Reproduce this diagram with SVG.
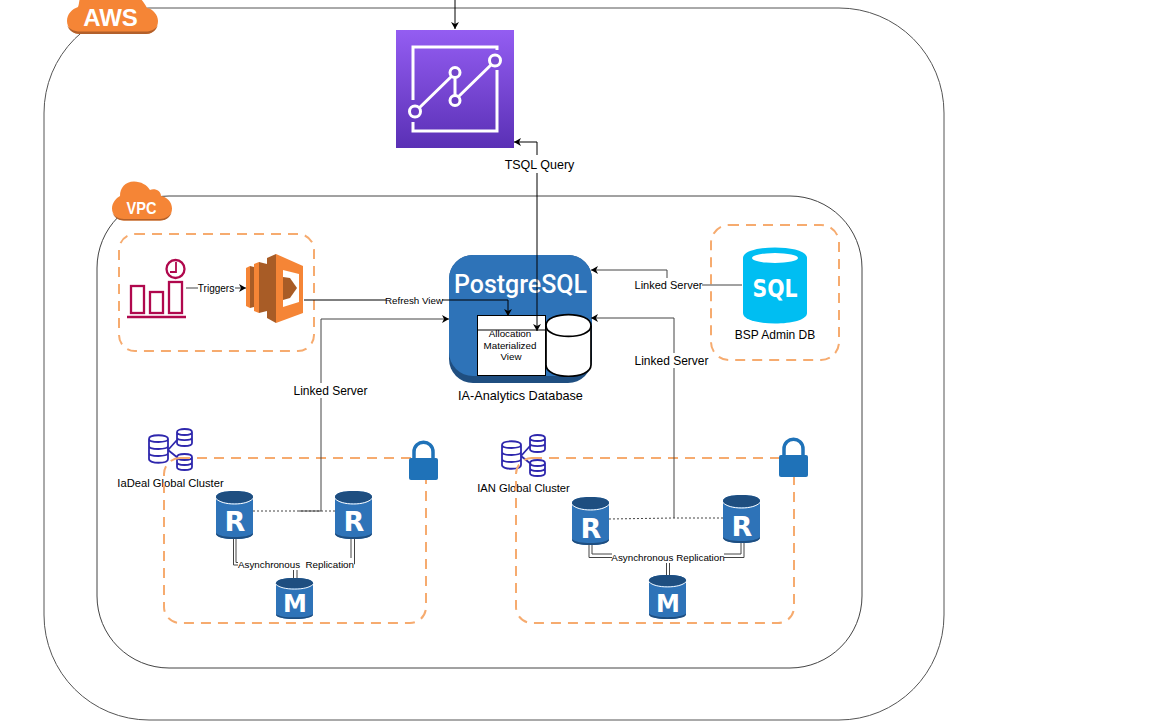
<svg xmlns="http://www.w3.org/2000/svg" width="1152" height="726" viewBox="0 0 1152 726">
<style>
text{font-family:"Liberation Sans",Arial,sans-serif;fill:#000}
.c{stroke:#000;stroke-width:1;fill:none}
.g{stroke:#444;stroke-width:1;fill:none}
.dash{fill:none;stroke:#f6ab6f;stroke-width:2;stroke-dasharray:10 7}
.lbl{font-size:12px;text-anchor:middle}
.sm{font-size:9.800px;text-anchor:middle}
.cloud{fill:#f58536}
.cl{fill:#fff;font-weight:bold;text-anchor:middle}
.dbb{fill:#2e73b8}
.cyl{fill:none;stroke:#2e27ad;stroke-width:1.800}
.dbw{fill:none;stroke:#fff;stroke-width:1}
.let{font-family:"DejaVu Sans",sans-serif;fill:#fff;font-weight:bold;font-size:27px;text-anchor:middle}
.lo{fill:#f58536}
.ld{fill:#a85c26}
</style>
<defs>
<marker id="a" markerWidth="8" markerHeight="8" refX="7" refY="4" orient="auto-start-reverse" markerUnits="userSpaceOnUse"><path d="M0 0L7 4L0 8L2 4Z" fill="#000"/></marker>
<linearGradient id="pg" x1="0" y1="0" x2="0" y2="1"><stop offset="0" stop-color="#945df2"/><stop offset="1" stop-color="#5a30b5"/></linearGradient>
<symbol id="db" viewBox="0 0 37 48" overflow="visible" preserveAspectRatio="none">
<path class="dbb" d="M0 6C0 2 8 0 18.500 0S37 2 37 6V42C37 46 29 48 18.500 48S0 46 0 42Z"/>
<path d="M0 6C0 2 8 0 18.500 0S37 2 37 6C37 10 29 12 18.500 12S0 10 0 6Z" fill="#1e4e80"/>
<path class="dbw" d="M0 7.500C3 11 10 13 18.500 13S34 11 37 7.500"/>
<path d="M0 42C3 45 10 46 18.500 46S34 45 37 42V43C37 46 29 48 18.500 48S0 46 0 43Z" fill="#1e4e80"/>
</symbol>
<symbol id="cyls" viewBox="0 0 50 45" overflow="visible">
<g class="cyl">
<path d="M0 10C0 5 19 5 19 10V30C19 35 0 35 0 30ZM0 10C0 14 19 14 19 10M0 17C0 21 19 21 19 17M0 24C0 28 19 28 19 24"/>
<path d="M28 3C28 -1 43 -1 43 3V14C43 18 28 18 28 14ZM28 3C28 7 43 7 43 3M28 8.500C28 12 43 12 43 8.500"/>
<path d="M28 28C28 24 43 24 43 28V38C43 42 28 42 28 38ZM28 28C28 32 43 32 43 28M28 33C28 37 43 37 43 33"/>
<path d="M19 21L28 11M19 21L29 29"/>
</g>
</symbol>
<symbol id="lock" viewBox="0 0 29 40" overflow="visible">
<path d="M5 19V11C5 -2 24 -2 24 11V19" fill="none" stroke="#1f72b8" stroke-width="3.500"/>
<rect x="0" y="17" width="29" height="22" rx="2" fill="#1f72b8"/>
</symbol>
</defs>

<g id="aws-container">
<rect x="44" y="8" width="900" height="712" rx="105" ry="105" fill="none" stroke="#555" stroke-width="1"/>
<path class="cloud" d="M80 34H146C153 34 158 28 158 21C158 15 153 9 147 8C145 4 142 0 140 -2H80C79 1 79 5 78 7C72 9 67 14 67 21C67 28 73 34 80 34Z"/>
<path d="M80 34H146C151 34 156 31 158 25C156 29 151 31.500 146 31.500H80C74 31.500 69 29 67 25C69 31 74 34 80 34Z" fill="#b2602b"/>
<text class="cl" x="110.500" y="26" font-size="24">AWS</text>
</g>
<g id="vpc-container">
<rect x="97" y="196" width="765" height="472" rx="72" ry="72" fill="none" stroke="#444" stroke-width="1"/>
<path class="cloud" d="M124 220.500H160C167 220.500 172 215 172 208.500C172 202 167 197 161 196C161 191 155 188 150 190C147 185 141 181.500 134 181.500C125 181.500 120 188 120 196C116 198 112 203 112 208.500C112 215 118 220.500 124 220.500Z"/>
<path d="M124 220.500H160C166 220.500 170 217 172 212C170 216 165 219 160 219H124C118 219 114 216 112 212C114 217 118 220.500 124 220.500Z" fill="#b2602b"/>
<text class="cl" x="141.500" y="214" font-size="17" textLength="30" lengthAdjust="spacingAndGlyphs">VPC</text>
</g>

<g id="iadeal-cluster-icon"><use href="#cyls" x="149" y="429" width="50" height="45"/><text x="170.500" y="487" font-size="11.200" text-anchor="middle">IaDeal Global Cluster</text></g>
<g id="ian-cluster-icon"><use href="#cyls" x="502" y="435" width="50" height="45"/><text x="523.500" y="492" font-size="11.200" text-anchor="middle">IAN Global Cluster</text></g>

<g id="scheduler-group"><rect class="dash" x="119" y="234" width="195" height="117" rx="16"/></g>
<g id="bsp-group"><rect class="dash" x="711" y="225" width="128" height="135" rx="18"/></g>
<g id="iadeal-group"><rect class="dash" x="164" y="458" width="262" height="165" rx="16"/></g>
<g id="ian-group"><rect class="dash" x="516" y="458" width="278" height="165" rx="16"/></g>

<g id="analytics-node">
<rect x="396" y="30" width="118" height="118" fill="url(#pg)"/>
<g fill="none" stroke="#fff" stroke-width="3">
<path d="M497 50V47H413V100M413 122V131H497V70"/>
<path d="M415 112L455 73V100L495 61"/>
<circle cx="415" cy="111.500" r="5.500" fill="#6a3cc4"/><circle cx="455" cy="72.500" r="5" fill="#7346ca"/><circle cx="455" cy="100.500" r="5" fill="#6a3cc4"/><circle cx="495" cy="60.500" r="5.500" fill="#7a4cd2"/>
</g>
</g>

<g id="scheduler-node" fill="none" stroke="#b0084d" stroke-width="2.300">
<rect x="131" y="286" width="13" height="27"/><rect x="150" y="292" width="13" height="21"/><rect x="169" y="282" width="13" height="31"/>
<path d="M127 317H186"/>
<circle cx="175.500" cy="269" r="9"/><path d="M176 262V272H170" stroke-width="1.800"/>
</g>

<g id="lambda-node">
<path class="lo" d="M246 268L250 266V308L246 306Z"/>
<path class="ld" d="M250 266L254 267V307L250 308Z"/>
<path class="lo" d="M254 264L259 262V313L254 311Z"/>
<path class="ld" d="M259 262L267 264V311L259 313Z"/>
<path class="ld" d="M267 258L276 254V323L267 318Z"/>
<path class="lo" d="M276 254L303 266V313L276 323Z"/>
<path d="M283 270L299 274V302L283 307Z" fill="#fff"/>
<path class="ld" d="M283 277L290 278L297 288L290 298L283 300Z"/>
</g>

<g id="postgres-node">
<rect x="449" y="255" width="143" height="128" rx="24" fill="#1f4e80"/>
<rect x="449" y="255" width="143" height="121" rx="24" fill="#2e73b8"/>
<text x="520.500" y="293" font-size="25" font-weight="500" text-anchor="middle" style="fill:#fff;font-family:Roboto,sans-serif" textLength="133" lengthAdjust="spacing">PostgreSQL</text>
<g id="view-box">
<rect x="477.500" y="315.500" width="68" height="60" fill="#fff" stroke="#000"/>
<path d="M477.500 330H545.500" stroke="#000"/>
<text class="sm" x="510" y="337">Allocation</text>
<text class="sm" x="510" y="348.500">Materialized</text>
<text class="sm" x="511" y="360">View</text>
</g>
<path d="M546 325.500C546 311 591 311 591 325.500V365C591 380 546 380 546 365Z" fill="#fff" stroke="#000" stroke-width="1.700"/>
<path d="M546 325.500C546 340 591 340 591 325.500" fill="none" stroke="#000" stroke-width="1.700"/>
<text x="520.500" y="400" font-size="12.700" text-anchor="middle">IA-Analytics Database</text>
</g>

<g id="bsp-node">
<path d="M743 258C743 244 807 244 807 258V313C807 327 743 327 743 313Z" fill="#00bef2"/>
<ellipse cx="775" cy="258" rx="23" ry="5" fill="#fff"/>
<text x="775" y="297" font-size="24" font-weight="bold" text-anchor="middle" style="fill:#fff;font-family:'DejaVu Sans',sans-serif" textLength="45" lengthAdjust="spacingAndGlyphs">SQL</text>
<text class="lbl" x="775" y="338.500">BSP Admin DB</text>
</g>

<g id="connectors">
<path class="c" d="M455 0V29" marker-end="url(#a)"/>
<path class="c" d="M537 331V142H514" marker-start="url(#a)" marker-end="url(#a)"/>
<path class="g" d="M186 288H246" marker-end="url(#a)"/>
<path class="c" d="M304 300H508V316" marker-end="url(#a)"/>
<path class="g" d="M299 511H321V319H449" marker-end="url(#a)"/>
<path class="g" d="M742 285H667V270H591" marker-end="url(#a)"/>
<path class="g" d="M674 518V318H591" marker-end="url(#a)"/>
<path class="g" stroke-dasharray="2 2" d="M253 511H335"/>
<path class="g" stroke-dasharray="2 2" d="M609 519L674 518L723 518"/>
<path class="g" d="M233.500 539V565H245M236 539V562.500H245"/>
<path class="g" d="M351 539V567H345M354.500 539V564H345"/>
<path class="g" d="M293.500 570V578M297 570V578"/>
<path class="g" d="M589 544V557.500H615M592 544V554H615"/>
<path class="g" d="M741 543V554H720M744 543V557.500H720"/>
<path class="g" d="M666.500 563V575M669.500 563V575"/>
</g>

<g id="tsql-label"><rect x="503" y="155" width="74" height="18" fill="#fff"/><text x="539.500" y="169" font-size="12.500" text-anchor="middle">TSQL Query</text></g>
<g id="triggers-label"><rect x="198" y="282" width="37" height="13" fill="#fff"/><text x="216" y="292" font-size="10" text-anchor="middle">Triggers</text></g>
<g id="refresh-label"><rect x="386" y="295" width="56" height="11" fill="#fff"/><text class="sm" x="414" y="304">Refresh View</text></g>
<g id="linked-1"><rect x="636" y="278" width="66" height="14" fill="#fff"/><text x="668.500" y="289" font-size="11" text-anchor="middle">Linked Server</text></g>
<g id="linked-2"><rect x="634" y="353" width="76" height="15" fill="#fff"/><text class="lbl" x="671.500" y="365">Linked Server</text></g>
<g id="linked-3"><rect x="293" y="383" width="76" height="15" fill="#fff"/><text class="lbl" x="330.500" y="395">Linked Server</text></g>

<g id="iadeal-lock"><use href="#lock" x="409" y="441" width="29" height="40"/></g>
<g id="ian-lock"><use href="#lock" x="779" y="438" width="29" height="40"/></g>

<g id="iadeal-r1"><use href="#db" x="216" y="491" width="37" height="48"/><text class="let" x="235" y="531">R</text></g>
<g id="iadeal-r2"><use href="#db" x="335" y="491" width="37" height="48"/><text class="let" x="354" y="531">R</text></g>
<g id="iadeal-m"><use href="#db" x="276" y="578" width="37" height="41"/><text class="let" x="295" y="612" style="font-size:24px">M</text></g>
<g id="ian-r1"><use href="#db" x="572" y="497" width="37" height="48"/><text class="let" x="591" y="538">R</text></g>
<g id="ian-r2"><use href="#db" x="723" y="495" width="37" height="48"/><text class="let" x="742" y="536">R</text></g>
<g id="ian-m"><use href="#db" x="649" y="575" width="37" height="44"/><text class="let" x="668" y="612" style="font-size:24px">M</text></g>

<g id="async-1"><rect x="238" y="558" width="116" height="12" fill="#fff"/><text x="296" y="567.500" font-size="9.800" text-anchor="middle" xml:space="preserve">Asynchronous  Replication</text></g>
<g id="async-2"><rect x="612" y="551" width="112" height="12" fill="#fff"/><text x="668" y="560.500" font-size="9.800" text-anchor="middle">Asynchronous Replication</text></g>
</svg>
